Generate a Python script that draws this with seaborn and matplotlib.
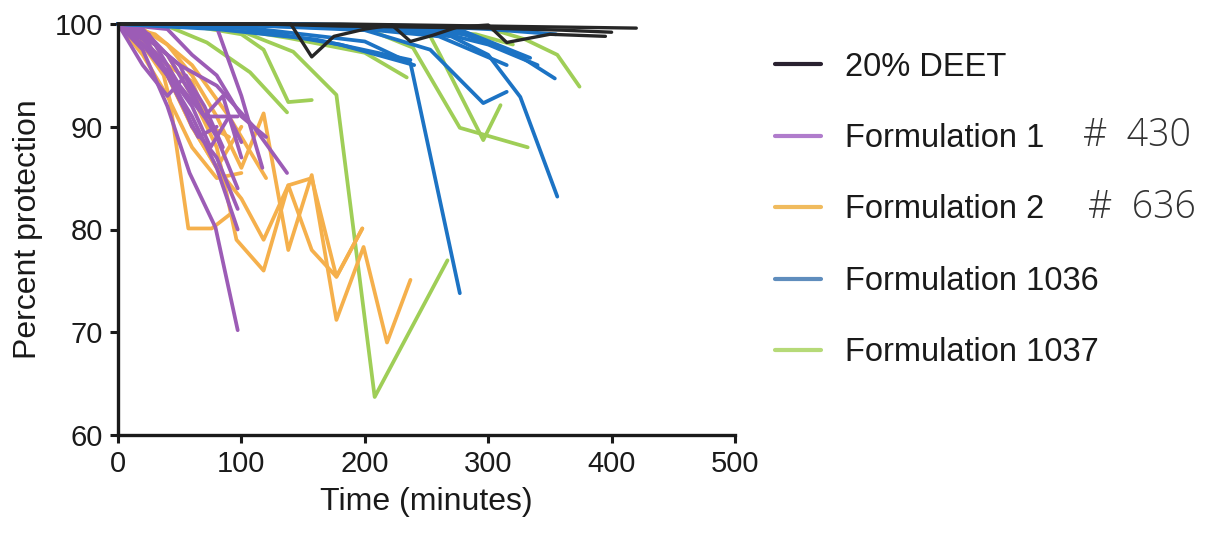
import matplotlib
matplotlib.use("Agg")
import matplotlib.pyplot as plt
from matplotlib.lines import Line2D
import seaborn as sns
import pandas as pd

# ---- group names and colours ----
groups = ["20% DEET", "Formulation 1", "Formulation 2", "Formulation 1036", "Formulation 1037"]
line_colors = {
    "20% DEET": "#262626",
    "Formulation 1": "#9c5cb6",
    "Formulation 2": "#f5b04c",
    "Formulation 1036": "#1c73c4",
    "Formulation 1037": "#9fce57",
}
legend_colors = {
    "20% DEET": "#2a2230",
    "Formulation 1": "#b07ccc",
    "Formulation 2": "#f0bb5e",
    "Formulation 1036": "#5f8dbd",
    "Formulation 1037": "#b6da78",
}

# ---- individual subject curves: time (minutes) and percent protection ----
deet_times = [
    [0, 60, 120, 180, 240, 300, 360, 420],
    [0, 100, 140, 157, 175, 200, 222, 237, 255, 275, 300, 315, 350, 395],
    [0, 120, 180, 240, 300, 360, 400],
]
deet_values = [
    [100, 100, 100, 100, 99.9, 99.8, 99.7, 99.6],
    [100, 100, 100, 96.8, 98.8, 99.5, 99.9, 98.3, 98.9, 99.7, 99.9, 98.2, 99.0, 98.8],
    [100, 100, 99.8, 99.7, 99.6, 99.4, 99.2],
]

f1_times = [
    [0, 20, 40, 58, 79, 97],
    [0, 20, 40, 60, 80, 97],
    [0, 20, 40, 60, 80, 97],
    [0, 20, 40, 60, 80, 97],
    [0, 30, 50, 70, 97],
    [0, 40, 80, 100, 117],
    [0, 20, 50, 80, 110, 137],
    [0, 30, 60, 75, 90, 100],
    [0, 20, 40, 65, 80],
    [0, 25, 50, 70, 85, 100],
    [0, 40, 60, 80, 100, 120],
    [0, 20, 40, 55, 70, 85],
]
f1_values = [
    [100, 97.5, 92, 85.5, 80.2, 70.2],
    [100, 99, 95, 91, 86, 80],
    [100, 98.5, 96, 90, 87, 82],
    [100, 99.5, 97, 93, 89, 84],
    [100, 98, 96, 91, 91],
    [100, 99.8, 99.7, 93, 86],
    [100, 99, 96, 94, 90, 85.5],
    [100, 97, 92, 88, 91, 88.5],
    [100, 98, 95, 89, 90],
    [100, 99, 94, 91, 93, 87],
    [100, 99.5, 97, 95, 91, 89],
    [100, 96, 93, 95, 92, 88],
]

f2_times = [
    [0, 20, 37, 42, 57, 76, 91],
    [0, 20, 40, 60, 80, 96, 118, 138, 157, 177, 198],
    [0, 20, 40, 60, 80, 100, 118, 138, 157, 177, 199, 218, 237],
    [0, 20, 40, 60, 80, 100, 118, 138, 157, 177, 198],
    [0, 20, 40, 60, 80, 100],
    [0, 20, 40, 60, 80, 100],
    [0, 20, 40, 60, 75, 90],
    [0, 30, 60, 90, 120],
]
f2_values = [
    [100, 98, 95, 92.6, 80.1, 80.1, 81.5],
    [100, 99, 97, 93, 88, 79, 76, 84.3, 78, 75.4, 80.1],
    [100, 99.5, 98, 95, 91, 86, 91.3, 78, 85.3, 71.2, 78.3, 69, 75.1],
    [100, 98, 95, 90, 86, 83, 79, 84.3, 85, 75.4, 80.1],
    [100, 97, 93, 88, 85, 85.5],
    [100, 99, 95, 90, 86, 90],
    [100, 98.5, 96, 94.4, 90, 89],
    [100, 99, 96, 91, 85],
]

f1036_times = [
    [0, 100, 200, 237, 277],
    [0, 100, 200, 253, 296, 315],
    [0, 100, 200, 270, 300, 326, 356],
    [0, 100, 200, 280, 320, 354],
    [0, 100, 200, 260, 315],
    [0, 150, 250, 300, 355],
    [0, 100, 180, 240],
    [0, 80, 160, 237],
    [0, 200, 280, 334],
    [0, 150, 250, 300, 340],
]
f1036_values = [
    [100, 99.7, 98.3, 96.2, 73.8],
    [100, 99.9, 99.4, 97.5, 92.3, 93.4],
    [100, 100, 99.6, 98.8, 97, 92.9, 83.2],
    [100, 100, 99.8, 99, 97.3, 94.7],
    [100, 99.9, 99.5, 98.8, 96],
    [100, 100, 99.8, 99.5, 99],
    [100, 99.6, 98, 96],
    [100, 99.5, 98.5, 96.5],
    [100, 99.9, 99.3, 96.7],
    [100, 100, 99.5, 98, 96],
]

f1037_times = [
    [0, 60, 100, 142, 177, 208, 267],
    [0, 60, 100, 118, 138, 157],
    [0, 40, 72, 107, 137],
    [0, 80, 140, 200, 234],
    [0, 100, 200, 239, 277, 332],
    [0, 150, 250, 261, 296, 310],
    [0, 200, 300, 330, 356, 374],
    [0, 100, 200, 290, 320],
]
f1037_values = [
    [100, 99.8, 99.3, 97.3, 93.1, 63.7, 77],
    [100, 99.8, 99, 97.5, 92.4, 92.6],
    [100, 99.8, 98.2, 95.3, 91.4],
    [100, 99.8, 98.6, 97.2, 94.8],
    [100, 99.9, 99.6, 97.7, 89.9, 88],
    [100, 99.9, 99.5, 97, 88.7, 92.1],
    [100, 99.9, 99.6, 98.5, 97, 93.9],
    [100, 99.9, 99.7, 99, 98],
]

series = {
    "20% DEET": (deet_times, deet_values),
    "Formulation 1": (f1_times, f1_values),
    "Formulation 2": (f2_times, f2_values),
    "Formulation 1036": (f1036_times, f1036_values),
    "Formulation 1037": (f1037_times, f1037_values),
}

rows = []
for g, (ts, vs) in series.items():
    for k, (t, v) in enumerate(zip(ts, vs)):
        for order, (ti, vi) in enumerate(zip(t, v)):
            rows.append({"group": g, "subject": f"{g}-{k}", "order": order,
                         "time": ti, "protection": vi})
df = pd.DataFrame(rows)

sns.set_theme(style="ticks")
plt.rcParams["font.family"] = ["Liberation Sans", "DejaVu Sans"]

fig = plt.figure(figsize=(12.16, 5.35), dpi=100)
ax = fig.add_axes([118 / 1216, 1 - 435 / 535, (735 - 118) / 1216, (435 - 24) / 535])

# drawing order: green, orange, purple, blue, black on top
draw_order = ["Formulation 1037", "Formulation 2", "Formulation 1", "Formulation 1036", "20% DEET"]
for g in draw_order:
    sub = df[df["group"] == g].sort_values(["subject", "order"])
    sns.lineplot(data=sub, x="time", y="protection", units="subject", estimator=None,
                 sort=False, color=line_colors[g], linewidth=2.7 if g != "20% DEET" else 2.4,
                 legend=False, ax=ax, clip_on=False, solid_joinstyle="round",
                 solid_capstyle="round")

ax.set_xlim(0, 500)
ax.set_ylim(60, 100)
ax.set_xticks([0, 100, 200, 300, 400, 500])
ax.set_yticks([60, 70, 80, 90, 100])
ax.set_xlabel("Time (minutes)", fontsize=23, labelpad=6, color="#1a1a1a")
ax.set_ylabel("Percent protection", fontsize=23, labelpad=8, color="#1a1a1a")
ax.tick_params(axis="both", labelsize=21, length=6, width=2.2, direction="out",
               color="#1a1a1a", labelcolor="#1a1a1a", pad=5)
sns.despine(ax=ax)
for side in ("left", "bottom"):
    ax.spines[side].set_linewidth(2.4)
    ax.spines[side].set_color("#1a1a1a")

handles = [Line2D([0], [0], color=legend_colors[g], linewidth=3) for g in groups]
fig.legend(handles, groups, loc="center left", bbox_to_anchor=(762 / 1216, 1 - 210 / 535),
           frameon=False, fontsize=23.5, handlelength=1.4, handletextpad=0.75,
           labelspacing=1.24, borderaxespad=0, labelcolor="#1a1a1a")

# handwritten notes next to the legend
fig.text(1083 / 1216, 1 - 136 / 535, "#  430", fontsize=27, family=["Open Sans", "DejaVu Sans"],
         fontweight="light", color="#333333", va="center", ha="left")
fig.text(1088 / 1216, 1 - 208 / 535, "#  636", fontsize=27, family=["Open Sans", "DejaVu Sans"],
         fontweight="light", color="#333333", va="center", ha="left")

fig.savefig("out.png", dpi=100, facecolor="white")
